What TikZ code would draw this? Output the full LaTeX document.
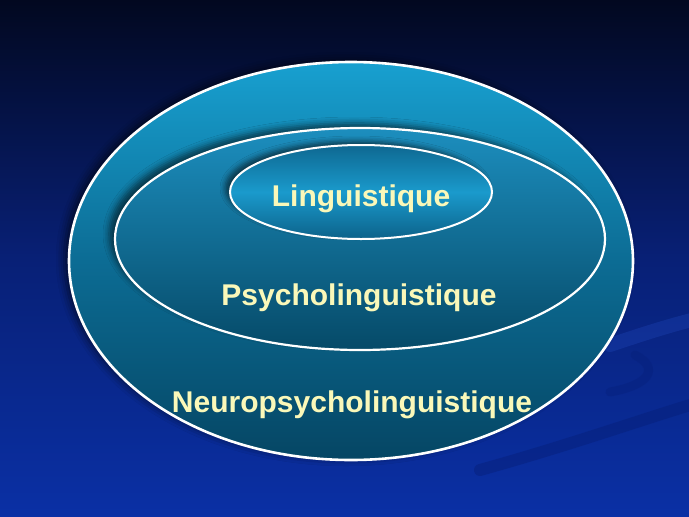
\documentclass[tikz,border=0pt]{standalone}
\usepackage{fontspec}
\setmainfont{Liberation Sans}
\usetikzlibrary{shapes.geometric,shadows.blur}
\definecolor{bgtop}{RGB}{2,8,32}
\definecolor{bgmid}{RGB}{8,32,118}
\definecolor{bgbot}{RGB}{10,48,165}
\definecolor{txt}{RGB}{250,248,185}
\definecolor{tealA}{RGB}{24,160,208}
\definecolor{tealB}{RGB}{12,108,148}
\definecolor{tealC}{RGB}{5,70,100}
\definecolor{tealD}{RGB}{28,142,190}
\definecolor{tealE}{RGB}{6,74,104}
\definecolor{innT}{RGB}{14,104,145}
\definecolor{innM}{RGB}{26,154,204}
\definecolor{innB}{RGB}{12,98,138}
\definecolor{swdark}{RGB}{6,30,120}
\definecolor{swlight}{RGB}{30,70,185}
\tikzset{
  ring/.style={ellipse, draw=white, inner sep=0pt},
  label/.style={text=txt, font=\fontsize{30}{30}\selectfont\bfseries, inner sep=0pt},
}
\begin{document}
\begin{tikzpicture}[x=1pt,y=-1pt]
\useasboundingbox (0,0) rectangle (689,517);
\shade[top color=bgtop, bottom color=bgbot, middle color=bgmid] (0,0) rectangle (689,517);
% faint swooshes
\draw[swlight, opacity=0.35, line width=14pt, line cap=round]
  (610,345) .. controls (640,335) and (670,325) .. (700,318);
\draw[swdark, opacity=0.45, line width=12pt, line cap=round]
  (480,470) .. controls (570,445) and (640,420) .. (700,402);
\draw[swdark, opacity=0.35, line width=9pt, line cap=round]
  (610,392) .. controls (650,385) and (660,368) .. (635,355);
\node[ring, line width=2.6pt, minimum width=564pt, minimum height=398pt,
  top color=tealA, bottom color=tealC, middle color=tealB,
  blur shadow={shadow xshift=-5pt, shadow yshift=2pt, shadow blur radius=8pt, shadow opacity=60}]
  (outer) at (351,261) {};
\node[ring, line width=2.2pt, minimum width=490pt, minimum height=222pt,
  top color=tealD, bottom color=tealE,
  blur shadow={shadow xshift=-6pt, shadow yshift=5pt, shadow blur radius=6pt, shadow opacity=55}]
  (middle) at (360,239) {};
\node[ring, line width=2pt, minimum width=262pt, minimum height=94pt,
  top color=innT, bottom color=innB, middle color=innM,
  blur shadow={shadow xshift=-5pt, shadow yshift=4pt, shadow blur radius=5pt, shadow opacity=55}]
  (inner) at (361,192) {};
\node[label] (ling) at (361,199) {Linguistique};
\node[label] (psy) at (359,298) {Psycholinguistique};
\node[label] (neuro) at (352,405) {Neuropsycholinguistique};
\end{tikzpicture}
\end{document}
